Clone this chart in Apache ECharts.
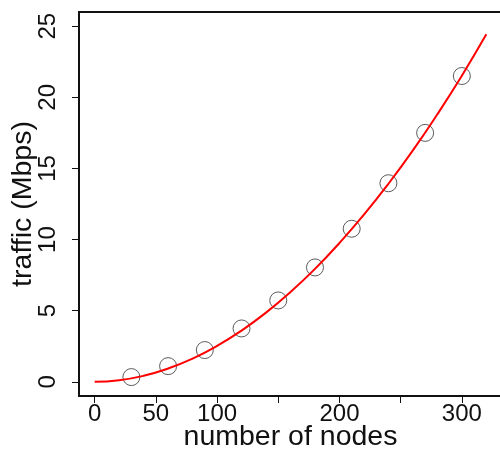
<!DOCTYPE html>
<html>
<head>
<meta charset="utf-8">
<script src="https://cdn.jsdelivr.net/npm/echarts@6/dist/echarts.min.js"></script>
<style>
  html, body { margin: 0; padding: 0; background: #fff; }
  #chart { width: 500px; height: 450px; }
</style>
</head>
<body>
<div id="chart"></div>
<script>
// measured points
const nodes = [30, 60, 90, 120, 150, 180, 210, 240, 270, 300]
const traffic = [0.33, 1.1, 2.23, 3.75, 5.72, 8.04, 10.76, 13.96, 17.5, 21.5]

// red fitted curve
const fitNodes = [0, 20, 40, 60, 80, 100, 120, 140, 160, 180, 200, 220, 240, 260, 280, 300, 320]
const fitTraffic = [0, 0.11, 0.42, 0.93, 1.63, 2.52, 3.6, 4.86, 6.31, 7.94, 9.76, 11.75, 13.92, 16.27, 18.81, 21.52, 24.43]

// axis ticks
const xTicks = [0, 50, 100, 150, 200, 250, 300]
const xLabels = [0, 50, 100, 200, 300]
const yTicks = [0, 5, 10, 15, 20, 25]

const font = 'Liberation Sans, Arial, Helvetica, sans-serif'

const chart = echarts.init(document.getElementById('chart'))
chart.setOption({
  animation: false,
  grid: {
    left: 79,
    top: 12,
    bottom: 54,
    right: -2,
    outerBoundsMode: 'none',
    show: true,
    borderColor: '#111',
    borderWidth: 2,
    backgroundColor: 'transparent'
  },
  xAxis: {
    type: 'value',
    min: -12.8,
    max: 332.8,
    name: 'number of nodes',
    nameLocation: 'middle',
    nameGap: 27,
    nameMoveOverlap: false,
    nameTextStyle: { fontFamily: font, fontSize: 28.5, color: '#111' },
    axisLine: { show: false, onZero: false },
    splitLine: { show: false },
    axisTick: {
      show: true,
      length: 7,
      customValues: xTicks,
      lineStyle: { color: '#111', width: 1 }
    },
    axisLabel: {
      customValues: xLabels,
      margin: 6,
      fontFamily: font,
      fontSize: 24,
      color: '#111'
    }
  },
  yAxis: {
    type: 'value',
    min: -1,
    max: 26,
    name: 'traffic (Mbps)',
    nameLocation: 'middle',
    nameRotate: 90,
    nameGap: 41,
    nameMoveOverlap: false,
    nameTextStyle: { fontFamily: font, fontSize: 28.5, color: '#111' },
    axisLine: { show: false, onZero: false },
    splitLine: { show: false },
    axisTick: {
      show: true,
      length: 7,
      customValues: yTicks,
      lineStyle: { color: '#111', width: 1 }
    },
    axisLabel: {
      customValues: yTicks,
      rotate: 90,
      margin: 19,
      fontFamily: font,
      fontSize: 24,
      color: '#111'
    }
  },
  series: [
    {
      type: 'scatter',
      data: nodes.map((n, i) => [n, traffic[i]]),
      symbol: 'circle',
      symbolSize: 17,
      itemStyle: { color: 'transparent', borderColor: '#333', borderWidth: 1 },
      emphasis: { disabled: true }
    },
    {
      type: 'line',
      data: fitNodes.map((n, i) => [n, fitTraffic[i]]),
      smooth: true,
      showSymbol: false,
      lineStyle: { color: '#ff0000', width: 2 },
      emphasis: { disabled: true }
    }
  ]
})
</script>
</body>
</html>
